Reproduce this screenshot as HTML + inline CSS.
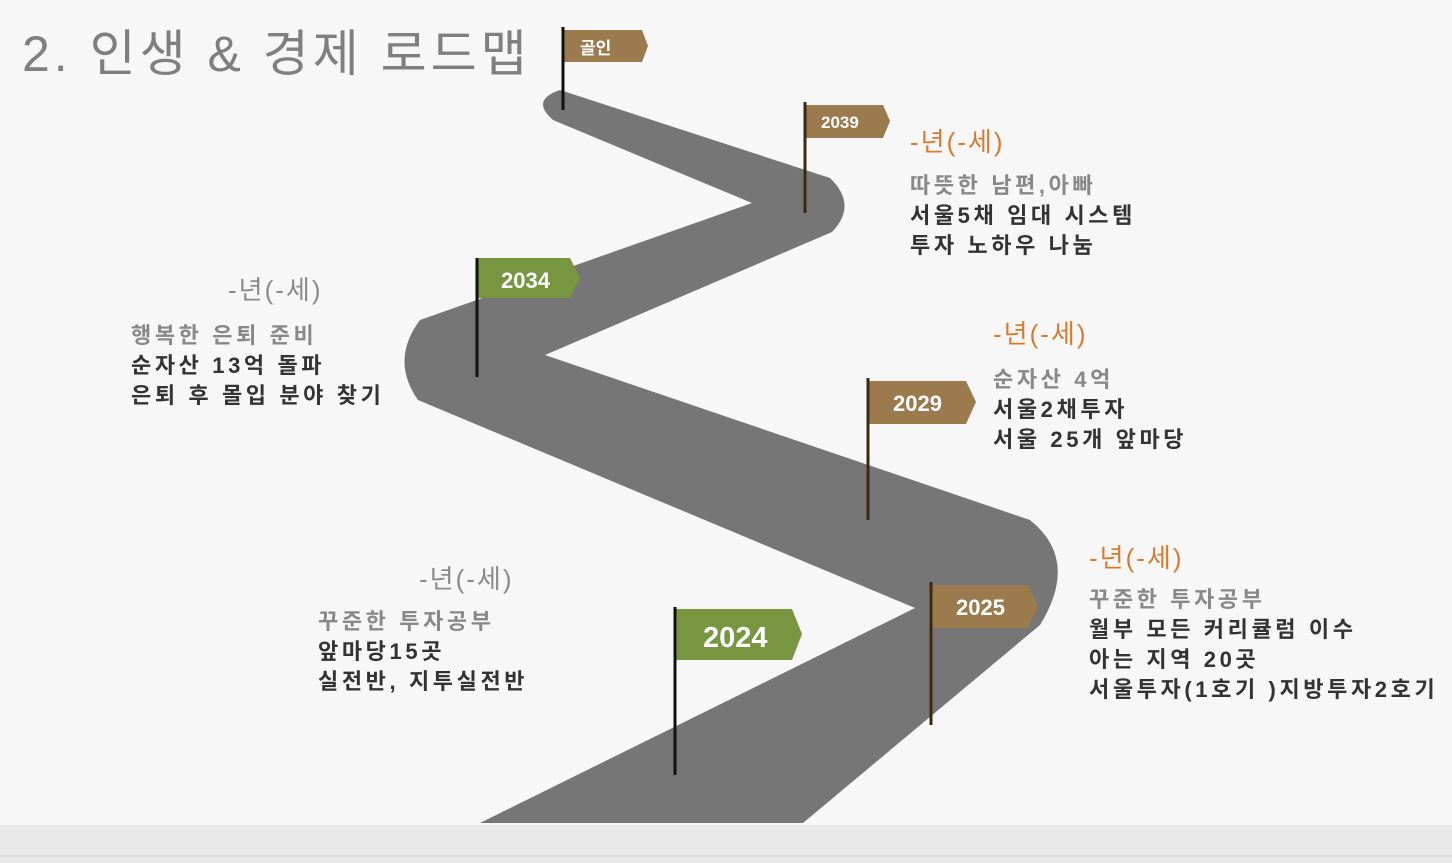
<!DOCTYPE html><html><head><meta charset="utf-8"><style>
body{margin:0;width:1452px;height:863px;background:#f7f7f7;position:relative;overflow:hidden;font-family:"Liberation Sans","Noto Sans CJK KR",sans-serif}
.t{position:absolute;white-space:nowrap}
.o{color:#d97a30;font-size:26px;letter-spacing:2px}
.g{color:#8a8a8a;font-size:26px;letter-spacing:2px}
.b{font-size:22px;font-weight:bold;line-height:30px;color:#333;letter-spacing:3.6px}
.b .l{color:#888}
</style></head><body>
<svg width="1452" height="863" style="position:absolute;left:0;top:0">
<rect x="0" y="825" width="1452" height="38" fill="#e8e8e8"/>
<line x1="0" y1="856" x2="1452" y2="856" stroke="#d0d0d0"/>
<path d="M480,823 L915,608 L418,400 Q390,360 420,320 L752,203 L553,120 Q530,100 560,90 L830,178 Q858,205 832,232 L545,355 L1030,520 Q1080,560 1040,625 L803,823 Z" fill="#767676"/>
<g font-family="Liberation Sans,Noto Sans CJK KR,sans-serif" font-weight="bold" fill="#fff">
<polygon points="563,30 642,30 648,46 642,62 563,62" fill="#9b7a4e"/><line x1="563" y1="27" x2="563" y2="110" stroke="#111" stroke-width="3"/>
<text x="580" y="54" font-size="17">골인</text>
<polygon points="805,105 883,105 890,121 883,138 805,138" fill="#9b7a4e"/><line x1="805" y1="102" x2="805" y2="213" stroke="#3a2a10" stroke-width="3"/>
<text x="821" y="128" font-size="17">2039</text>
<polygon points="477,258 570,258 580,278 570,298 477,298" fill="#77963f"/><line x1="477" y1="258" x2="477" y2="377" stroke="#111" stroke-width="3"/>
<text x="501" y="288" font-size="22">2034</text>
<polygon points="868,381 966,381 976,402 966,424 868,424" fill="#9b7a4e"/><line x1="868" y1="378" x2="868" y2="520" stroke="#3a2a10" stroke-width="3"/>
<text x="893" y="411" font-size="22">2029</text>
<polygon points="931,585 1028,585 1038,606 1028,628 931,628" fill="#9b7a4e"/><line x1="931" y1="582" x2="931" y2="725" stroke="#3a2a10" stroke-width="3"/>
<text x="956" y="615" font-size="22">2025</text>
<polygon points="675,609 792,609 802,634 792,660 675,660" fill="#77963f"/><line x1="675" y1="607" x2="675" y2="775" stroke="#111" stroke-width="3"/>
<text x="703" y="647" font-size="29">2024</text>
</g>
</svg>
<div class="t" style="left:22px;top:14px;font-size:50px;color:#7f7f7f;letter-spacing:4px">2. 인생 &amp; 경제 로드맵</div>
<div class="t o" style="left:910px;top:122px">-년(-세)</div>
<div class="t b" style="left:910px;top:171px"><span class="l">따뜻한 남편,아빠</span><br>서울5채  임대 시스템<br>투자 노하우 나눔</div>
<div class="t g" style="left:228px;top:270px">-년(-세)</div>
<div class="t b" style="left:131px;top:321px"><span class="l">행복한 은퇴 준비</span><br>순자산 13억 돌파<br>은퇴 후 몰입 분야 찾기</div>
<div class="t o" style="left:993px;top:314px">-년(-세)</div>
<div class="t b" style="left:993px;top:365px"><span class="l">순자산 4억</span><br>서울2채투자<br>서울 25개 앞마당</div>
<div class="t o" style="left:1089px;top:538px">-년(-세)</div>
<div class="t b" style="left:1089px;top:585px"><span class="l">꾸준한 투자공부</span><br>월부 모든 커리큘럼 이수<br>아는 지역 20곳<br>서울투자(1호기 )지방투자2호기</div>
<div class="t g" style="left:419px;top:559px">-년(-세)</div>
<div class="t b" style="left:318px;top:607px"><span class="l">꾸준한 투자공부</span><br>앞마당15곳<br>실전반, 지투실전반</div>
</body></html>
